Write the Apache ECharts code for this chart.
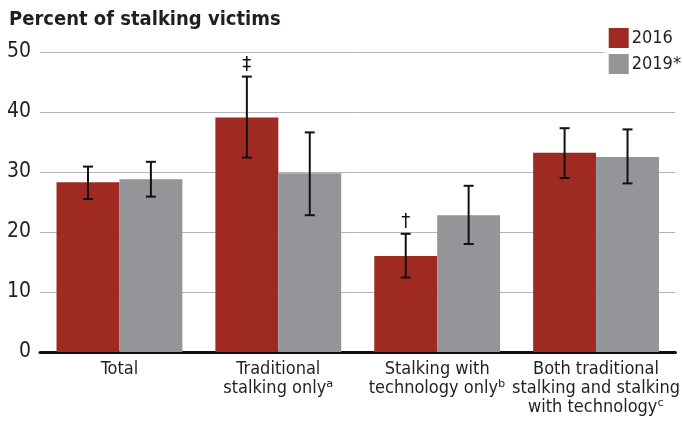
<!DOCTYPE html>
<html>
<head>
<meta charset="utf-8">
<script src="https://cdn.jsdelivr.net/npm/echarts@6/dist/echarts.min.js"></script>
<style>
html, body { margin: 0; padding: 0; background: #fff; }
#main { width: 683px; height: 423px; }
</style>
</head>
<body>
<div id="main"></div>
<script>
var categories = ["Total", "Traditional\nstalking only{sup|\u1d43}", "Stalking with\ntechnology only{sup|\u1d47}", "Both traditional\nstalking and stalking\nwith technology{sup|\u1d9c}"];
var years = ["2016", "2019*"];
var values2016 = [28.3, 39.1, 16.0, 33.2];
var values2019 = [28.8, 29.8, 22.8, 32.5];
var low2016 = [25.5, 32.4, 12.4, 29.0];
var high2016 = [30.9, 45.9, 19.7, 37.3];
var low2019 = [25.9, 22.8, 18.0, 28.1];
var high2019 = [31.7, 36.6, 27.7, 37.1];
var marks2016 = ["", "\u2021", "\u2020", ""];
var marks2019 = ["", "", "", ""];
var yTicks = [0, 10, 20, 30, 40, 50];

var FONT = '"DejaVu Sans Condensed", "Liberation Sans Narrow", sans-serif';
var RED = "#9e2a21", GRAY = "#939598";
var catGap = 0.208;

function errData(low, high, marks) {
    var out = [];
    for (var i = 0; i < low.length; i++) out.push([i, low[i], high[i], marks[i]]);
    return out;
}

function errRender(side) {
    return function (params, api) {
        var idx = api.value(0);
        var bw = api.size([1, 0])[0] * (1 - catGap) / 2;
        var lo = api.coord([idx, api.value(1)]);
        var hi = api.coord([idx, api.value(2)]);
        var x = lo[0] + side * bw / 2;
        var cap = 5;
        var st = { stroke: "#111", lineWidth: 2 };
        var kids = [
            { type: "line", shape: { x1: x, y1: lo[1], x2: x, y2: hi[1] }, style: st },
            { type: "line", shape: { x1: x - cap, y1: hi[1], x2: x + cap, y2: hi[1] }, style: st },
            { type: "line", shape: { x1: x - cap, y1: lo[1], x2: x + cap, y2: lo[1] }, style: st }
        ];
        var m = api.value(3);
        if (m) {
            kids.push({ type: "text", x: x, y: hi[1] - 2, style: {
                text: m, font: "20px " + FONT, fill: "#111", align: "center", verticalAlign: "bottom" } });
        }
        return { type: "group", children: kids };
    };
}

var chart = echarts.init(document.getElementById("main"), null, { renderer: "canvas" });
chart.setOption({
    animation: false,
    textStyle: { fontFamily: FONT },
    title: {
        text: "Percent of stalking victims", left: 4, top: 5,
        textStyle: { fontFamily: FONT, fontWeight: "bold", fontSize: 20, color: "#231f20" }
    },
    legend: {
        data: years, orient: "vertical", right: 0, top: 26,
        itemWidth: 20, itemHeight: 20, itemGap: 6, icon: "rect",
        backgroundColor: "#fff", padding: [2, 2, 2, 4],
        textStyle: { fontFamily: FONT, fontSize: 18, color: "#231f20", padding: [0, 0, 0, -2] }
    },
    grid: { left: 40, right: 7, top: 52, bottom: 71 },
    xAxis: {
        type: "category", data: categories,
        axisLine: { lineStyle: { color: "#111", width: 3 } },
        axisTick: { show: false },
        axisLabel: {
            interval: 0, fontFamily: FONT, fontSize: 18, color: "#231f20", lineHeight: 19, margin: 8,
            rich: { sup: { fontSize: 20, lineHeight: 19 } }
        }
    },
    yAxis: {
        type: "value", min: 0, max: 50, interval: 10,
        axisLine: { show: false }, axisTick: { show: false },
        axisLabel: {
            fontFamily: FONT, fontSize: 21, color: "#231f20", margin: 9,
            formatter: function (v) { return yTicks.indexOf(v) >= 0 ? String(v) : ""; }
        },
        splitLine: { lineStyle: { color: "#b5b5b5", width: 1 } }
    },
    series: [
        { name: years[0], type: "bar", data: values2016, barGap: "0%", barCategoryGap: (catGap * 100) + "%",
          itemStyle: { color: RED } },
        { name: years[1], type: "bar", data: values2019, itemStyle: { color: GRAY } },
        { type: "custom", renderItem: errRender(-1), data: errData(low2016, high2016, marks2016), z: 5,
          encode: { x: 0, y: [1, 2] } },
        { type: "custom", renderItem: errRender(1), data: errData(low2019, high2019, marks2019), z: 5,
          encode: { x: 0, y: [1, 2] } }
    ]
});
</script>
</body>
</html>
